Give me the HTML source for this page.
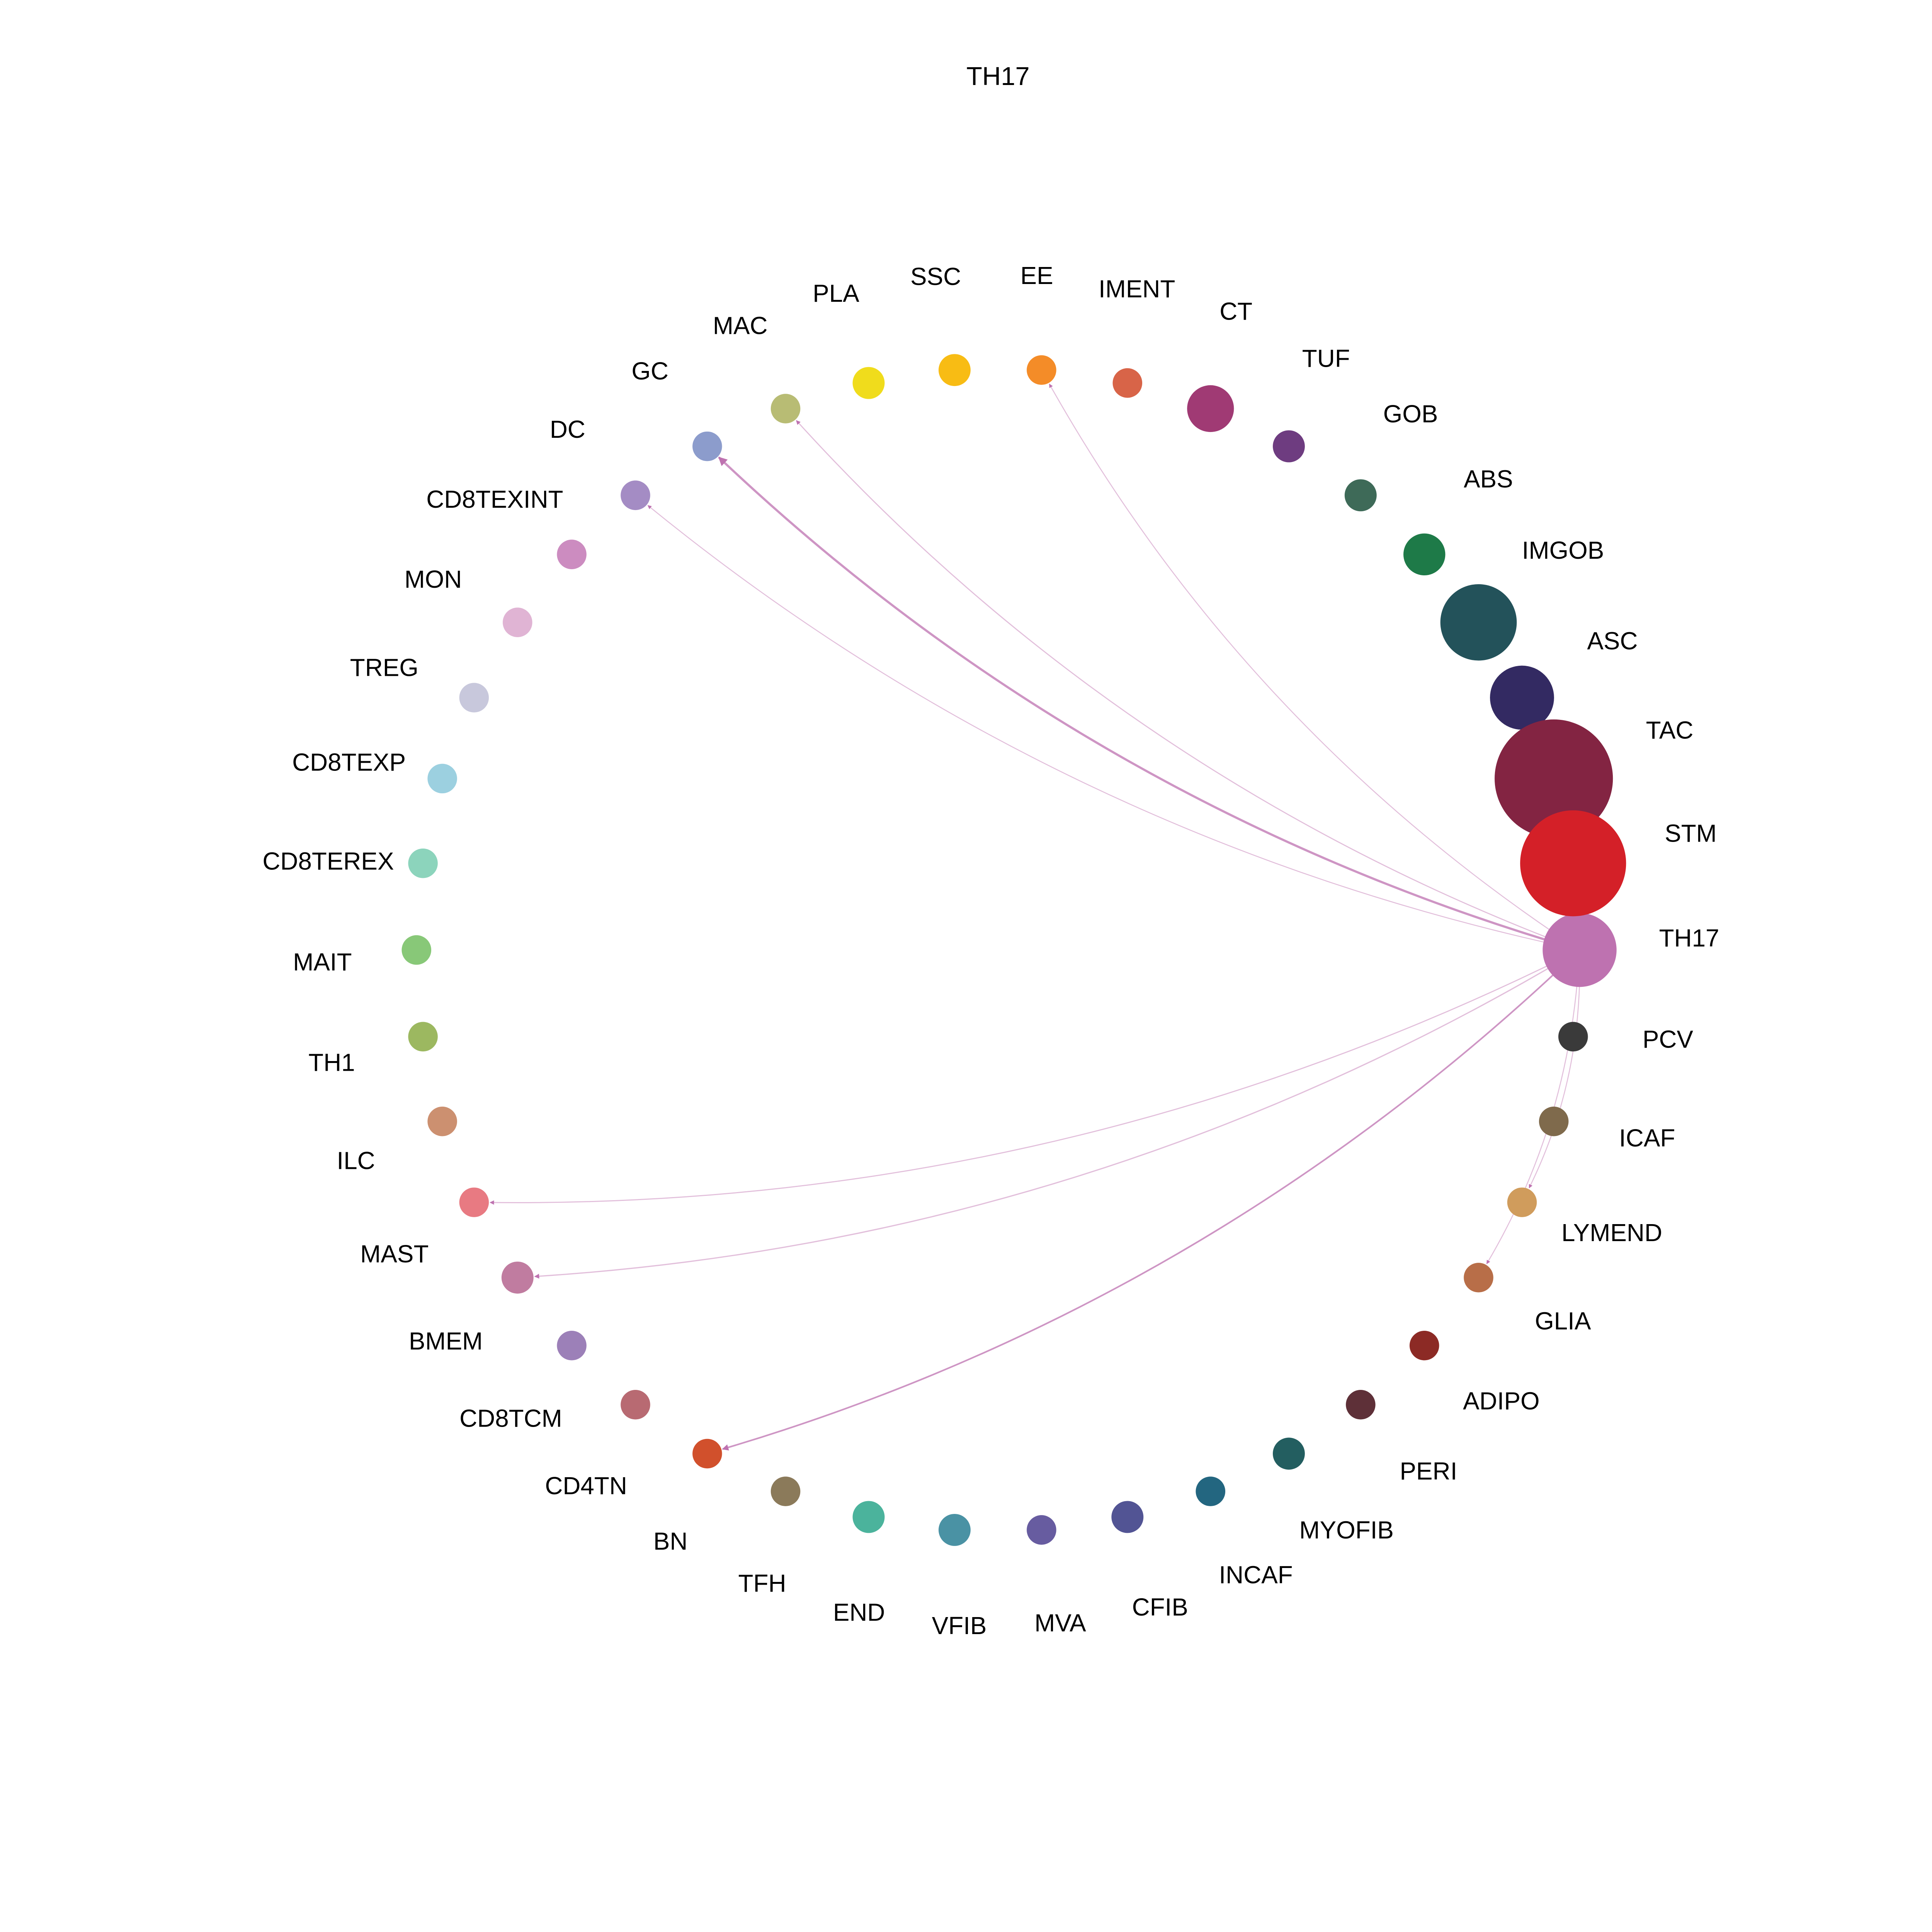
<!DOCTYPE html>
<html>
<head>
<meta charset="utf-8">
<style>
html,body{margin:0;padding:0;background:#fff;overflow:hidden;width:100%;height:100%;}
svg{display:block;width:100vw;height:100vh;}
text{font-family:"Liberation Sans",Arial,sans-serif;fill:#000;}
</style>
</head>
<body>
<svg id="chart" viewBox="0 0 1568 1568" preserveAspectRatio="xMidYMid meet" xmlns="http://www.w3.org/2000/svg">
<defs>
<marker id="arr" viewBox="0 0 10 10" refX="9" refY="5" markerWidth="4" markerHeight="4" orient="auto-start-reverse">
<path d="M0,0 L10,5 L0,10 z" fill="#be72b0"/>
</marker>
</defs>
<text x="810" y="69" font-size="21" text-anchor="middle">TH17</text>
<g id="edges"></g>
<g id="nodes"></g>
<g id="labels"></g>
</svg>
<script>
const nodeNames = ["TH17","PCV","ICAF","LYMEND","GLIA","ADIPO","PERI","MYOFIB","INCAF","CFIB","MVA","VFIB","END","TFH","BN","CD4TN","CD8TCM","BMEM","MAST","ILC","TH1","MAIT","CD8TEREX","CD8TEXP","TREG","MON","CD8TEXINT","DC","GC","MAC","PLA","SSC","EE","IMENT","CT","TUF","GOB","ABS","IMGOB","ASC","TAC","STM"];
const nodeSizes = [30,12,12,12,12,12,12,13,12,13,12,13,13,12,12,12,12,13,12,12,12,12,12,12,12,12,12,12,12,12,13,13,12,12,19,13,13,17,31,26,48,43];
const nodeColors = ["#be72b0","#3a3a3a","#7f6a4c","#d09c5c","#b86e48","#8c2a25","#5e3038","#235e60","#236680","#525494","#675ca0","#4a92a4","#4bb39c","#8b7a5a","#d1502c","#b86a72","#9c80b8","#c07ca0","#e87a82","#cc9070","#9cb860","#88c878","#8cd4bc","#9cd0e0","#c8c8dc","#e0b4d4","#cc8cc0","#a48cc4","#8c9ccc","#b8bc74","#f0dc1c","#f8bc14","#f48c28","#d86448","#a03a74","#6e3c80","#3e6a58","#1e7a48","#23525a","#332a62","#832442","#d42028"];
const edgeSource = "TH17";
const edgeTargets = ["EE","MAC","GC","DC","MAST","BMEM","BN","LYMEND","GLIA"];
const edgeWeights = [0.8,0.9,1.8,0.8,0.9,1.0,1.3,0.8,0.8];

const CX=810, CY=771, R=472;
const NS="http://www.w3.org/2000/svg";
function ang(i){return i*2*Math.PI/nodeNames.length;}
function pos(i){return [CX+R*Math.cos(ang(i)), CY+R*Math.sin(ang(i))];}

const eg=document.getElementById('edges');
const si=nodeNames.indexOf(edgeSource);
edgeTargets.forEach((t,k)=>{
  const ti=nodeNames.indexOf(t);
  const [x1,y1]=pos(si),[x2,y2]=pos(ti);
  const dx=x2-x1,dy=y2-y1;
  const mx=(x1+x2)/2+dy*0.12, my=(y1+y2)/2-dx*0.12;
  let ex=x2-mx, ey=y2-my; const el=Math.hypot(ex,ey);
  const r2=nodeSizes[ti]+1;
  const x2b=x2-ex/el*r2, y2b=y2-ey/el*r2;
  let sx=mx-x1, sy=my-y1; const sl=Math.hypot(sx,sy);
  const x1b=x1+sx/sl*nodeSizes[si]*0.3, y1b=y1+sy/sl*nodeSizes[si]*0.3;
  const p=document.createElementNS(NS,'path');
  
  
  p.setAttribute('d',`M${x1b},${y1b} Q${mx},${my} ${x2b},${y2b}`);
  p.setAttribute('fill','none');
  p.setAttribute('stroke','#be72b0');
  p.setAttribute('stroke-opacity',edgeWeights[k]>1.2?0.75:0.45);
  p.setAttribute('stroke-width',edgeWeights[k]);
  p.setAttribute('marker-end','url(#arr)');
  eg.appendChild(p);
});

const ng=document.getElementById('nodes'), lg=document.getElementById('labels');
nodeNames.forEach((n,i)=>{
  const [x,y]=pos(i);
  const c=document.createElementNS(NS,'circle');
  
  
  c.setAttribute('cx',x);c.setAttribute('cy',y);c.setAttribute('r',nodeSizes[i]);
  c.setAttribute('fill',nodeColors[i]);
  ng.appendChild(c);
  const a=ang(i)-1.0*Math.PI/180;
  const L=540+0.7*nodeSizes[i];
  const tx=CX+L*Math.cos(a), ty=CY+L*Math.sin(a);
  const tt=document.createElementNS(NS,'text');
  
  
  tt.setAttribute('x',tx);tt.setAttribute('y',ty+7);
  tt.setAttribute('font-size','20');
  tt.setAttribute('text-anchor','middle');
  tt.textContent=n;
  lg.appendChild(tt);
});
</script>
</body>
</html>
